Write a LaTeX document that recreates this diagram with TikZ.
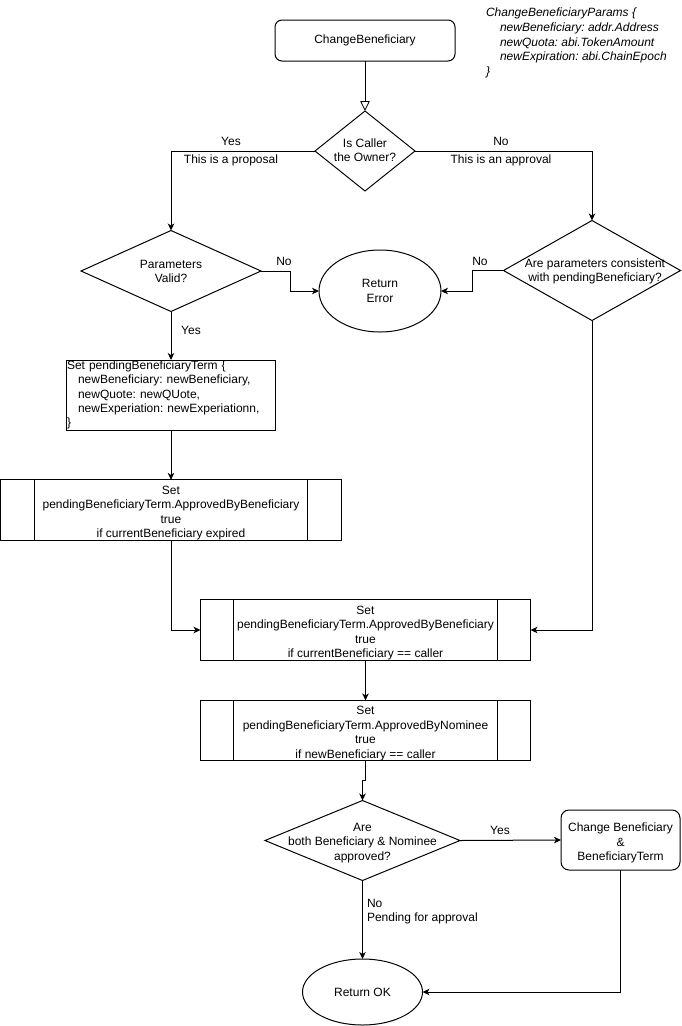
\documentclass[tikz,border=0pt]{standalone}
\usepackage{fontspec}
\setmainfont{Liberation Sans}
\usetikzlibrary{shapes.geometric,arrows.meta}
\frenchspacing
\newcommand{\topstrut}{\rule{0pt}{14.5pt}}
\begin{document}
\begin{tikzpicture}[x=1pt,y=-1pt,line width=1pt,
  every node/.style={font=\fontsize{12}{14.4}\selectfont,inner sep=0pt,outer sep=0pt},
  arr/.style={-{Stealth[length=7pt,width=6.5pt,inset=2pt]}},
  openarr/.style={-{Triangle[open,length=10pt,width=9.5pt,line width=0.8pt]}},
  rbox/.style={draw,rounded corners=7pt,align=center},
  pbox/.style={draw,rectangle,align=center,minimum width=330pt,minimum height=60pt},
  dia/.style={draw,diamond},
  ell/.style={draw,ellipse,align=center},
  lbl/.style={align=center},
  note/.style={anchor=base west,font=\fontsize{12}{14.4}\selectfont\itshape}]
\useasboundingbox (0,0) rectangle (681,1026);

% annotation
\node[note] (n1) at (486,16.5) {ChangeBeneficiaryParams \{};
\node[note] (n2) at (500,31.3) {newBeneficiary: addr.Address};
\node[note] (n3) at (500,46.1) {newQuota: abi.TokenAmount};
\node[note] (n4) at (500,60.9) {newExpiration: abi.ChainEpoch};
\node[note] (n5) at (486,75.7) {\}};

% nodes
\node[rbox,minimum width=180pt,minimum height=41pt] (start) at (365,40.5) {ChangeBeneficiary};

\node[dia,minimum width=100pt,minimum height=80pt] (d1) at (365,151) {};
\node[lbl] (d1t) at (365,150) {Is Caller\\the Owner?};

\node[dia,minimum width=180pt,minimum height=81pt] (d2) at (171,271) {};
\node[lbl] (d2t) at (171,271.5) {Parameters\\Valid?};

\node[dia,minimum width=177pt,minimum height=100pt] (d3) at (592,270.5) {};
\node[lbl] (d3t) at (595,271.5) {Are parameters consistent\\with pendingBeneficiary?};

\node[ell,minimum width=122pt,minimum height=82pt] (err) at (380,291) {Return\\Error};

\node[draw,rectangle,minimum width=209pt,minimum height=70pt,text width=207pt,align=left,
      font=\fontsize{12}{14.2}\selectfont] (b0) at (170.5,395)
  {Set pendingBeneficiaryTerm \{\\
   \hspace*{11pt}newBeneficiary: newBeneficiary,\\
   \hspace*{11pt}newQuote: newQUote,\\
   \hspace*{11pt}newExperiation: newExperiationn,\\
   \}};

\node[pbox,minimum width=341pt] (b1) at (171,510)
  {\topstrut Set\\pendingBeneficiaryTerm.ApprovedByBeneficiary\\true\\if currentBeneficiary expired};
\draw ([xshift=34pt]b1.north west) -- ([xshift=34pt]b1.south west);
\draw ([xshift=-34pt]b1.north east) -- ([xshift=-34pt]b1.south east);

\node[pbox] (b2) at (365.5,630)
  {\topstrut Set\\pendingBeneficiaryTerm.ApprovedByBeneficiary\\true\\if currentBeneficiary == caller};
\draw ([xshift=33pt]b2.north west) -- ([xshift=33pt]b2.south west);
\draw ([xshift=-33pt]b2.north east) -- ([xshift=-33pt]b2.south east);

\node[pbox] (b3) at (365.5,730.5)
  {\topstrut Set\\pendingBeneficiaryTerm.ApprovedByNominee\\true\\if newBeneficiary == caller};
\draw ([xshift=33pt]b3.north west) -- ([xshift=33pt]b3.south west);
\draw ([xshift=-33pt]b3.north east) -- ([xshift=-33pt]b3.south east);

\node[dia,minimum width=195pt,minimum height=80pt] (d4) at (362.5,840.5) {};
\node[lbl] (d4t) at (362.5,843) {Are\\both Beneficiary \& Nominee\\approved?};

\node[rbox,minimum width=119pt,minimum height=60pt,rounded corners=8pt] (ch) at (620.5,840)
  {\topstrut Change Beneficiary\\\&\\BeneficiaryTerm};

\node[ell,minimum width=120pt,minimum height=66pt] (ok) at (362.5,992) {Return OK};

% connectors
\draw[openarr] (d1.north |- start.south) -- (d1.north);
\draw[arr] (d1.west) -| (d2.north);
\draw[arr] (d1.east) -| (d3.north);
\draw[arr] (d2.east) -- ++(29,0) |- (err.west);
\draw[arr] (d3.west) -- ++(-31,0) |- (err.east);
\draw[arr] (d2.south) -- (b0.north -| d2.south);
\draw[arr] (b0.south -| b1.north) -- (b1.north);
\draw[arr] (b1.south) |- (b2.west);
\draw[arr] (d3.south) |- (b2.east);
\draw[arr] (b2.south) -- (b3.north);
\draw[arr] (b3.south) -- ++(0,19.5) -| (d4.north);
\draw[arr] (d4.east) -- (ch.west);
\draw[arr] (ch.south) |- (ok.east);
\draw[arr] (d4.south) -- (ok.north);

% labels
\node[lbl] (l1) at (231,141) {Yes};
\node[lbl] (l2) at (231,160) {This is a proposal};
\node[lbl] (l3) at (501,141) {No};
\node[lbl] (l4) at (501,160) {This is an approval};
\node[lbl] (l5) at (284,261) {No};
\node[lbl] (l6) at (480,261) {No};
\node[lbl] (l7) at (191,330) {Yes};
\node[lbl] (l8) at (500,830) {Yes};
\node[anchor=west] (l9) at (367,903) {No};
\node[anchor=west] (l10) at (367,918) {Pending for approval};
\end{tikzpicture}
\end{document}
